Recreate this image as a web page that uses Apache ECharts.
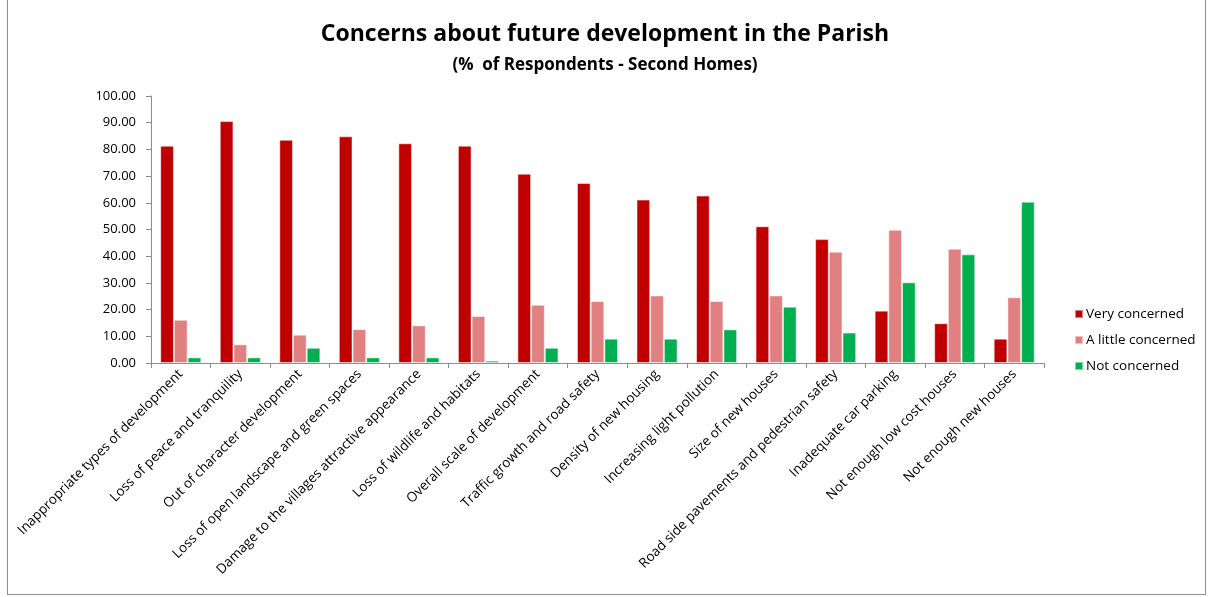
<!DOCTYPE html>
<html><head><meta charset="utf-8">
<script src="https://cdn.jsdelivr.net/npm/echarts@6/dist/echarts.min.js"></script>
<style>
html,body{margin:0;padding:0;background:#fff;}
#frame{position:absolute;left:7px;top:-1px;width:1197px;height:594px;border:1px solid #8c8c8c;}
#c{position:absolute;left:0;top:0;width:1210px;height:597px;}
</style></head>
<body>
<div id="frame"></div>
<div id="c"></div>
<script>
const categories = [
  "Inappropriate types of development",
  "Loss of peace and tranquility",
  "Out of character development",
  "Loss of open landscape and green spaces",
  "Damage to the villages attractive appearance",
  "Loss of wildlife and habitats",
  "Overall scale of development",
  "Traffic growth and road safety",
  "Density of new housing",
  "Increasing light pollution",
  "Size of new houses",
  "Road side pavements and pedestrian safety",
  "Inadequate car parking",
  "Not enough low cost houses",
  "Not enough new houses"
];
const veryConcerned   = [81.4, 90.6, 83.6, 84.9, 82.3, 81.4, 70.9, 67.4, 61.2, 62.7, 51.2, 46.4, 19.6, 14.9, 9.1];
const littleConcerned = [16.2, 7.0, 10.6, 12.7, 14.1, 17.6, 21.8, 23.2, 25.3, 23.2, 25.3, 41.7, 49.9, 42.8, 24.6];
const notConcerned    = [2.1, 2.1, 5.7, 2.1, 2.1, 0.9, 5.7, 9.1, 9.1, 12.6, 21.1, 11.4, 30.2, 40.7, 60.4];
const yTicks = [0, 10, 20, 30, 40, 50, 60, 70, 80, 90, 100];

const font = "'Open Sans', 'Noto Sans', sans-serif";
const chart = echarts.init(document.getElementById('c'));
const barBorder = {borderColor: 'rgba(255,255,255,0.5)', borderWidth: 1};
chart.setOption({
  animation: false,
  backgroundColor: 'transparent',
  title: [{
    text: 'Concerns about future development in the Parish',
    left: 'center', top: 18,
    textStyle: {fontFamily: font, fontSize: 23, fontWeight: 'bold', color: '#000'}
  }, {
    text: '(%  of Respondents - Second Homes)',
    left: 'center', top: 52,
    textStyle: {fontFamily: font, fontSize: 17, fontWeight: 'bold', color: '#000'}
  }],
  legend: {
    orient: 'vertical', left: 1069, top: 302,
    itemWidth: 8, itemHeight: 8, itemGap: 12, icon: 'rect',
    textStyle: {fontFamily: font, fontSize: 13.5, color: '#000', padding: [0,0,0,-2]},
    data: ['Very concerned', 'A little concerned', 'Not concerned']
  },
  grid: {left: 151, right: 166, top: 96, bottom: 234, containLabel: false},
  xAxis: {
    type: 'category', data: categories,
    axisLine: {lineStyle: {color: '#8c8c8c', width: 1}},
    axisTick: {show: true, alignWithLabel: false, length: 5, lineStyle: {color: '#8c8c8c'}},
    axisLabel: {rotate: 45, interval: 0, margin: 9, fontFamily: font, fontSize: 13.5, color: '#000'}
  },
  yAxis: {
    type: 'value', min: 0, max: 100, interval: 10,
    splitLine: {show: false},
    axisLine: {show: true, lineStyle: {color: '#8c8c8c', width: 1}},
    axisTick: {show: true, length: 5, lineStyle: {color: '#8c8c8c'}},
    axisLabel: {fontFamily: font, fontSize: 13, color: '#000', margin: 15,
      formatter: v => yTicks.includes(v) ? v.toFixed(2) : ''}
  },
  series: [
    {name: 'Very concerned', type: 'bar', data: veryConcerned, barGap: '0%', barCategoryGap: '31%',
     itemStyle: Object.assign({color: '#C00000'}, barBorder)},
    {name: 'A little concerned', type: 'bar', data: littleConcerned,
     itemStyle: Object.assign({color: '#E08080'}, barBorder)},
    {name: 'Not concerned', type: 'bar', data: notConcerned,
     itemStyle: Object.assign({color: '#00B050'}, barBorder)}
  ]
});
</script>
</body></html>
